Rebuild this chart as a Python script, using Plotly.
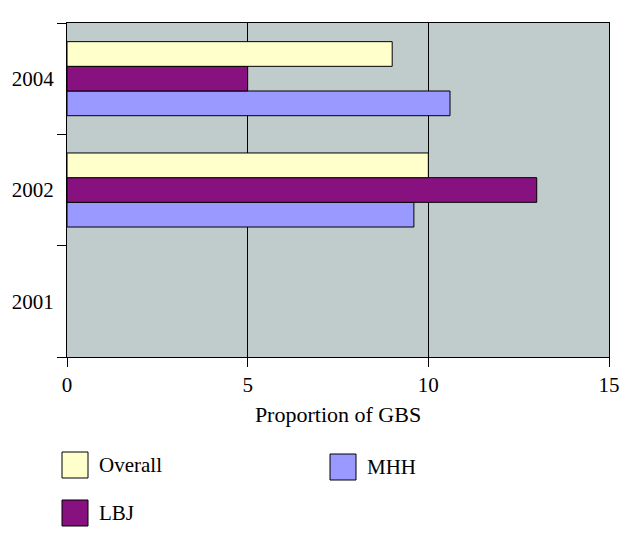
import plotly.graph_objects as go

years = ["2001", "2002", "2004"]
overall = [None, 10.0, 9.0]
lbj = [None, 13.0, 5.0]
mhh = [None, 9.6, 10.6]

c_overall = "#FFFFCC"
c_lbj = "#881180"
c_mhh = "#9999FF"
font = "Liberation Serif"

fig = go.Figure()
# first trace drawn at bottom of each group
for name, vals, col in [("MHH", mhh, c_mhh), ("LBJ", lbj, c_lbj), ("Overall", overall, c_overall)]:
    fig.add_trace(go.Bar(
        y=years, x=vals, name=name, orientation="h",
        marker=dict(color=col, line=dict(color="black", width=1)),
        showlegend=False,
    ))

fig.update_layout(
    width=628, height=535,
    margin=dict(l=59, r=27, t=15, b=186),
    paper_bgcolor="white",
    plot_bgcolor="#C0CCCC",
    barmode="group",
    bargap=0.335,
    bargroupgap=0,
    font=dict(family=font, size=21, color="black"),
)
fig.update_xaxes(
    range=[0, 15], tickvals=[0, 5, 10, 15],
    showgrid=True, gridcolor="black", gridwidth=1,
    zeroline=False, automargin=False,
    showline=True, linecolor="black", linewidth=1, mirror=True,
    ticks="outside", ticklen=9, tickcolor="black",
    tickfont=dict(family=font, size=21),
    title=dict(text="Proportion of GBS", font=dict(family=font, size=22), standoff=10),
)
fig.update_yaxes(
    type="category", categoryorder="array", categoryarray=years,
    showgrid=False, zeroline=False, automargin=False,
    showline=True, linecolor="black", linewidth=1, mirror=True,
    ticks="outside", ticklen=9, tickcolor="black", tickson="boundaries",
    tickfont=dict(family=font, size=21), ticklabelstandoff=8,
)

# custom legend (boxes + labels), positions relative to plot area
legend_items = [("Overall", c_overall, 62, 452), ("MHH", c_mhh, 330, 454), ("LBJ", c_lbj, 62, 500)]
for name, col, lx, ly in legend_items:
    fig.add_shape(type="rect", xref="paper", yref="paper",
                  x0=(lx - 67) / 542, x1=(lx + 26 - 67) / 542,
                  y0=(357 - ly - 26) / 334, y1=(357 - ly) / 334,
                  fillcolor=col, line=dict(color="black", width=1))
    fig.add_annotation(text=name, xref="paper", yref="paper",
                       x=(lx + 35 - 67) / 542, y=(357 - ly - 13) / 334,
                       xanchor="left", yanchor="middle", showarrow=False,
                       font=dict(family=font, size=21, color="black"))

fig.write_html("out.html")
